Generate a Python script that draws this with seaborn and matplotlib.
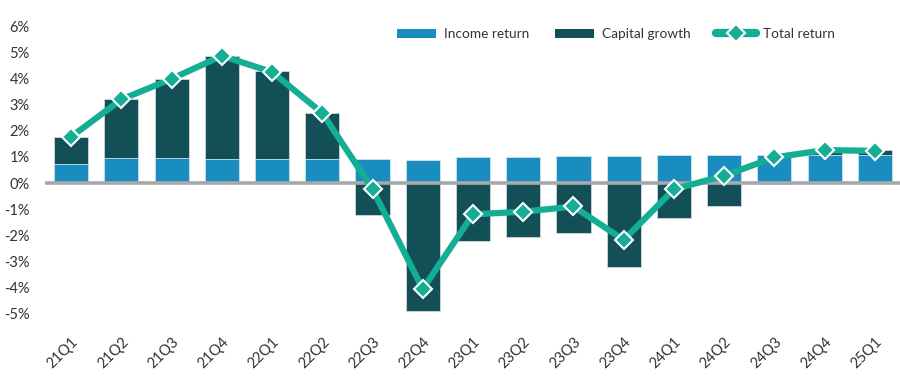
import matplotlib
matplotlib.use("Agg")
import matplotlib.pyplot as plt
import seaborn as sns
import pandas as pd
from matplotlib.patches import Patch
from matplotlib.lines import Line2D

# Quarterly returns (%)
quarters = ["21Q1", "21Q2", "21Q3", "21Q4", "22Q1", "22Q2", "22Q3", "22Q4", "23Q1",
            "23Q2", "23Q3", "23Q4", "24Q1", "24Q2", "24Q3", "24Q4", "25Q1"]
income = [0.73, 0.96, 0.96, 0.92, 0.92, 0.92, 0.92, 0.90, 0.98,
          0.98, 1.03, 1.03, 1.08, 1.08, 1.08, 1.08, 1.08]
capital = [1.03, 2.26, 3.02, 3.95, 3.37, 1.76, -1.21, -4.90, -2.22,
           -2.08, -1.90, -3.20, -1.35, -0.88, -0.05, 0.14, 0.17]
total = [1.77, 3.20, 3.99, 4.87, 4.25, 2.68, -0.24, -4.06, -1.20,
         -1.10, -0.90, -2.18, -0.24, 0.28, 0.98, 1.26, 1.23]

c_income = "#1A8DC0"
c_capital = "#134F56"
c_total = "#14AE95"

df = pd.DataFrame({"quarter": quarters, "income": income, "capital": capital, "total": total})
# capital growth stacks on income when positive, hangs from zero when negative
df["cap_top"] = [i + c if c > 0 else c for i, c in zip(income, capital)]

sns.set_style("white")
plt.rcParams["font.family"] = ["Lato", "DejaVu Sans"]

fig = plt.figure(figsize=(9, 3.78), dpi=100)
ax = fig.add_axes([0.05, 0.136, 0.95, 0.815])

sns.barplot(data=df, x="quarter", y="cap_top", color=c_capital, saturation=1,
            width=0.68, edgecolor="#D0D8DA", linewidth=0.6, ax=ax)
sns.barplot(data=df, x="quarter", y="income", color=c_income, saturation=1,
            width=0.68, edgecolor="#D0E4EE", linewidth=0.6, ax=ax)
ax.axhline(0, color="#A8A8A8", lw=2.6, zorder=3)
sns.pointplot(data=df, x="quarter", y="total", color=c_total, markers="D",
              markersize=9, linewidth=4.5, markeredgecolor="white",
              markeredgewidth=1.5, ax=ax, zorder=5)

ax.set_xlim(-0.52, 16.5)
ax.set_ylim(-5.5, 6.3)
ax.set_yticks(range(-5, 7))
ax.set_yticklabels([f"{v}%" for v in range(-5, 7)], fontsize=10.5, color="#333333")
ax.tick_params(axis="y", length=0, pad=11)
ax.tick_params(axis="x", length=0, pad=6)
for lab in ax.get_xticklabels():
    lab.set_rotation(45)
    lab.set_fontsize(10.5)
    lab.set_color("#333333")
    lab.set_ha("right")
    lab.set_rotation_mode("anchor")
ax.set_xlabel("")
ax.set_ylabel("")
sns.despine(ax=ax, left=True, bottom=True)

handles = [
    Patch(facecolor=c_income, edgecolor="none"),
    Patch(facecolor=c_capital, edgecolor="none"),
    Line2D([0], [0], color=c_total, lw=6, marker="D", markersize=9,
           markeredgecolor="white", markeredgewidth=1.5),
]
leg = ax.legend(handles, ["Income return", "Capital growth", "Total return"],
                loc="upper left", bbox_to_anchor=(0.397, 1.009), ncol=3, frameon=False,
                fontsize=9.8, handlelength=2.9, handleheight=0.6, columnspacing=1.9,
                handletextpad=0.55)
for t in leg.get_texts():
    t.set_color("#333333")

fig.savefig("out.png", dpi=100)
